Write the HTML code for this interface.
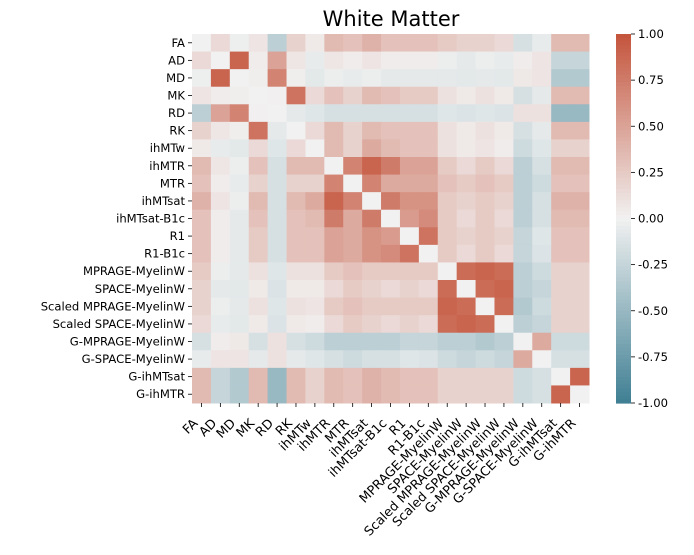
<!DOCTYPE html>
<html><head><meta charset="utf-8">
<style>
html,body{margin:0;padding:0;background:#fff;}
svg{display:block;font-family:"DejaVu Sans","Liberation Sans",sans-serif;}
</style></head>
<body>
<svg id="chart" width="694" height="555" viewBox="0 0 694 555">
<text x="391" y="26" font-size="21" text-anchor="middle">White Matter</text>
<g id="cells"></g><g id="ylabels"></g><g id="xlabels"></g><g id="cbar"></g>
</svg>
<script>
const labels = ["FA","AD","MD","MK","RD","RK","ihMTw","ihMTR","MTR","ihMTsat","ihMTsat-B1c","R1","R1-B1c","MPRAGE-MyelinW","SPACE-MyelinW","Scaled MPRAGE-MyelinW","Scaled SPACE-MyelinW","G-MPRAGE-MyelinW","G-SPACE-MyelinW","G-ihMTsat","G-ihMTR"];
const values = [
[0,.15,-.02,.08,-.3,.2,.05,.35,.3,.4,.3,.3,.3,.25,.2,.2,.15,-.15,-.05,.35,.35],
[.15,0,.9,.03,.5,.07,-.05,.07,.03,.08,.03,.03,.03,-.03,-.07,-.03,-.05,.03,.08,-.25,-.25],
[-.02,.9,0,.02,.7,.02,-.08,-.03,-.05,-.03,-.07,-.07,-.07,-.07,-.08,-.07,-.08,.06,.08,-.35,-.35],
[.08,.03,.02,0,.01,.8,.15,.3,.2,.35,.3,.25,.25,.1,.05,.1,.05,-.15,-.07,.35,.35],
[-.3,.5,.7,.01,0,-.07,-.1,-.15,-.15,-.15,-.15,-.15,-.15,-.1,-.12,-.1,-.12,.1,.1,-.5,-.5],
[.2,.07,.02,.8,-.07,0,.15,.35,.2,.35,.3,.3,.3,.1,.05,.1,.05,-.15,-.07,.35,.35],
[.05,-.05,-.08,.15,-.1,.15,0,.35,.2,.45,.35,.3,.3,.1,.05,.08,.03,-.2,-.1,.2,.2],
[.35,.07,-.03,.3,-.15,.35,.35,0,.7,.9,.75,.5,.5,.25,.15,.25,.15,-.3,-.15,.35,.35],
[.3,.03,-.05,.2,-.15,.2,.2,.7,0,.7,.45,.45,.45,.3,.25,.3,.25,-.3,-.2,.3,.3],
[.4,.08,-.03,.35,-.15,.35,.45,.9,.7,0,.75,.6,.6,.25,.2,.25,.2,-.3,-.15,.4,.4],
[.3,.03,-.07,.3,-.15,.3,.35,.75,.45,.75,0,.55,.65,.25,.15,.25,.15,-.3,-.15,.35,.35],
[.3,.03,-.07,.25,-.15,.3,.3,.5,.45,.6,.55,0,.8,.25,.2,.25,.2,-.25,-.1,.3,.3],
[.3,.03,-.07,.25,-.15,.3,.3,.5,.45,.6,.65,.8,0,.25,.15,.25,.15,-.25,-.12,.3,.3],
[.25,-.03,-.07,.1,-.1,.1,.1,.25,.3,.25,.25,.25,.25,0,.85,.9,.85,-.3,-.2,.2,.2],
[.2,-.07,-.08,.05,-.12,.05,.05,.15,.25,.2,.15,.2,.15,.85,0,.85,.9,-.3,-.25,.2,.2],
[.2,-.03,-.07,.1,-.1,.1,.08,.25,.3,.25,.25,.25,.25,.9,.85,0,.85,-.35,-.2,.2,.2],
[.15,-.05,-.08,.05,-.12,.05,.03,.15,.25,.2,.15,.2,.15,.85,.9,.85,0,-.3,-.25,.2,.2],
[-.15,.03,.06,-.15,.1,-.15,-.2,-.3,-.3,-.3,-.3,-.25,-.25,-.3,-.3,-.35,-.3,0,.45,-.2,-.2],
[-.05,.08,.08,-.07,.1,-.07,-.1,-.15,-.2,-.15,-.15,-.1,-.12,-.2,-.25,-.2,-.25,.45,0,-.15,-.15],
[.35,-.25,-.35,.35,-.5,.35,.2,.35,.3,.4,.35,.3,.3,.2,.2,.2,.2,-.2,-.15,0,.9],
[.35,-.25,-.35,.35,-.5,.35,.2,.35,.3,.4,.35,.3,.3,.2,.2,.2,.2,-.2,-.15,.9,0]
];
const cbarTicks = [1.00,0.75,0.50,0.25,0.00,-0.25,-0.50,-0.75,-1.00];

const NS="http://www.w3.org/2000/svg";
const X0=192,X1=589,Y0=34,Y1=403;
const n=labels.length, cw=(X1-X0)/n, ch=(Y1-Y0)/n;
const xPos=i=>X0+i*cw, yPos=i=>Y0+i*ch;
const neg=[63,127,147], mid=[241,241,241], pos=[196,84,60];
function color(v){v=Math.max(-1,Math.min(1,v));const a=v<0?neg:pos,t=Math.abs(v);
 return "rgb("+[0,1,2].map(k=>Math.round(mid[k]+(a[k]-mid[k])*t)).join(",")+")";}
function mk(tag,attrs,parent){const e=document.createElementNS(NS,tag);for(const k in attrs)e.setAttribute(k,attrs[k]);parent.appendChild(e);return e;}
const gc=document.getElementById("cells"),gy=document.getElementById("ylabels"),gx=document.getElementById("xlabels"),gb=document.getElementById("cbar");
for(let i=0;i<n;i++)for(let j=0;j<n;j++){
 const r=mk("rect",{x:xPos(j),y:yPos(i),width:cw+0.5,height:ch+0.5,fill:color(values[i][j])},gc);
 
 
}
for(let i=0;i<n;i++){
 const cy=yPos(i)+ch/2;
 mk("line",{x1:X0-4,x2:X0,y1:cy,y2:cy,stroke:"#000","stroke-width":0.8},gy);
 const t=mk("text",{x:X0-7,y:cy+4,"font-size":11.6,"text-anchor":"end"},gy);
 t.textContent=labels[i];
 
 
 const cx=xPos(i)+cw/2;
 mk("line",{x1:cx,x2:cx,y1:Y1,y2:Y1+4,stroke:"#000","stroke-width":0.8},gx);
 const bx=cx-3, by=Y1+21;
 const tx=mk("text",{x:bx,y:by,"font-size":12.8,"text-anchor":"end",transform:"rotate(-45 "+bx+" "+by+")"},gx);
 tx.textContent=labels[i];
 
 
}
const BX=616,BW=15;
const cbY=v=>Y0+(1-v)/2*(Y1-Y0);
const steps=100;
for(let s=0;s<steps;s++){
 const v=1-2*(s+0.5)/steps;
 const r=mk("rect",{x:BX,y:Y0+s*(Y1-Y0)/steps,width:BW,height:(Y1-Y0)/steps+0.6,fill:color(v)},gb);
 
 
}
cbarTicks.forEach(v=>{
 const y=cbY(v);
 mk("line",{x1:BX+BW,x2:BX+BW+4,y1:y,y2:y,stroke:"#000","stroke-width":0.8},gb);
 const t=mk("text",{x:BX+BW+7,y:y+4,"font-size":11.6},gb);
 t.textContent=v.toFixed(2);
 
 
});
</script>
</body></html>
